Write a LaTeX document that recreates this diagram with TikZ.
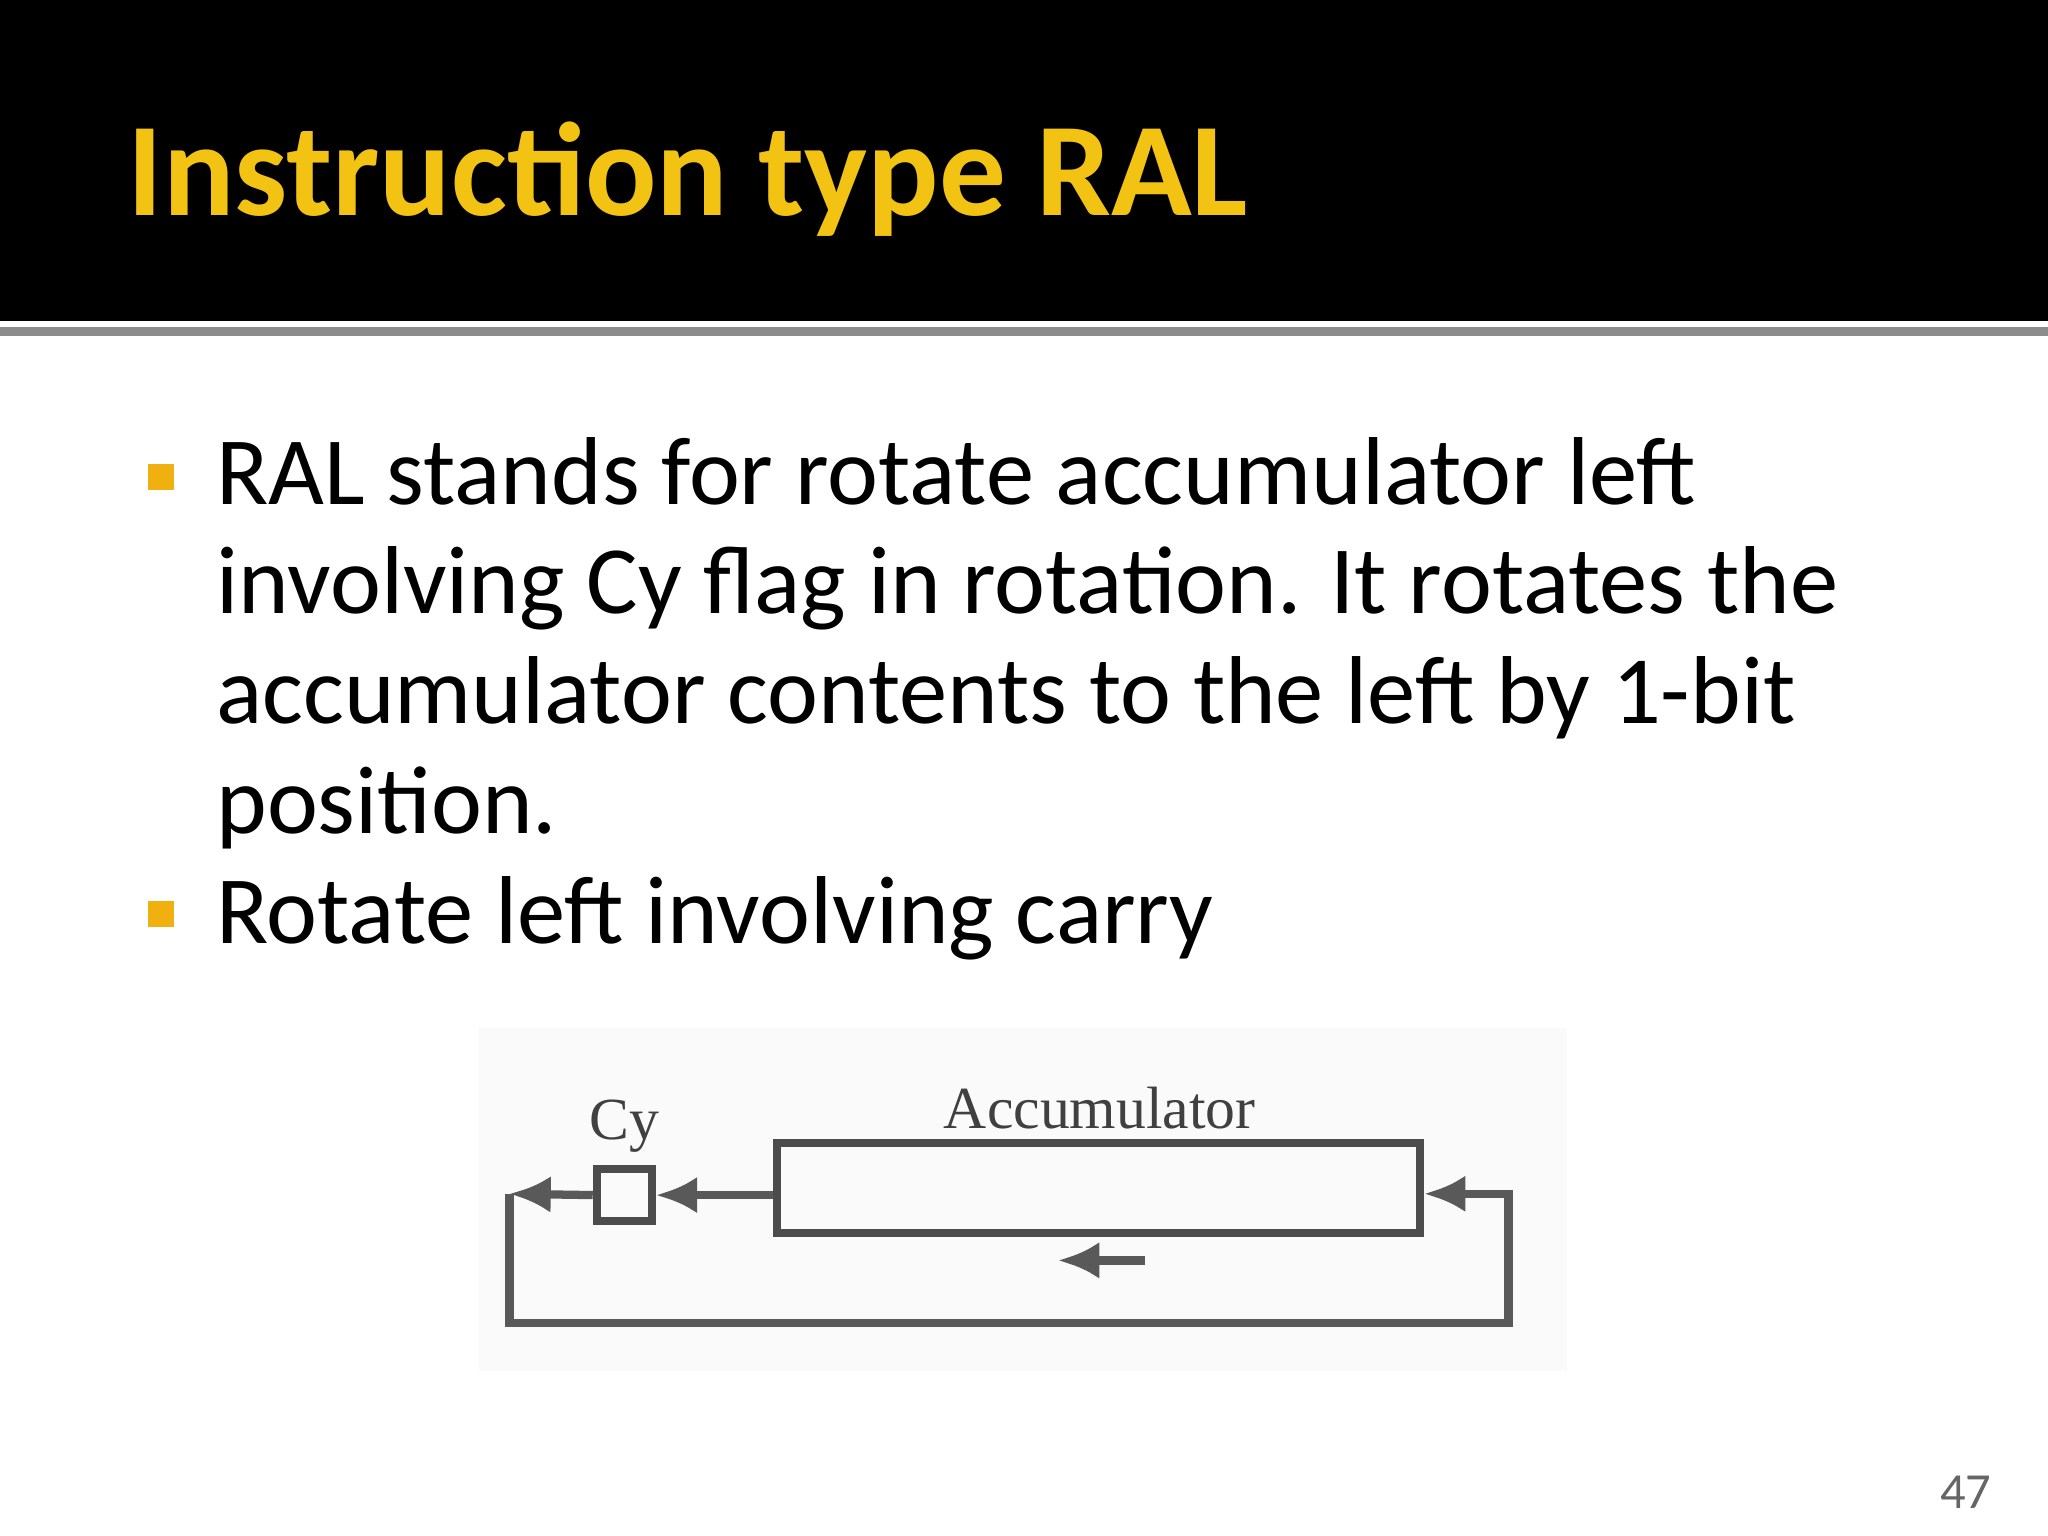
\documentclass[tikz,border=0pt]{standalone}
\usepackage{fontspec}
\setmainfont{Carlito}
\newfontfamily\serifd{Liberation Serif}
\usetikzlibrary{arrows.meta}
\definecolor{ttl}{HTML}{F2C313}
\definecolor{bul}{HTML}{F0B010}
\tikzset{wire/.style={draw=black!65,line width=1.8pt},
 tip/.style={-{Latex[length=9pt,width=8pt]}}}
\begin{document}
\begin{tikzpicture}[x=0.01cm,y=-0.01cm]
\useasboundingbox (0,0) rectangle (1568,1176);
\fill[white] (0,0) rectangle (1568,1176);
\fill[black] (0,0) rectangle (1568,246);
\draw[black!45,line width=2pt] (0,254) -- (1568,254);
\node[anchor=base west,inner sep=0,text=ttl,font=\fontsize{29}{34}\selectfont\bfseries] (title) at (97,165) {Instruction type RAL};
\fill[bul] (113,355) rectangle (133,375);
\fill[bul] (113,690) rectangle (133,710);
\foreach \t [count=\i from 0] in {RAL stands for rotate accumulator left,involving Cy flag in rotation. It rotates the,accumulator contents to the left by 1-bit,position.,Rotate left involving carry}
  \node[anchor=base west,inner sep=0,font=\fontsize{21}{25}\selectfont] (l\i) at (165,386+84*\i) {\t};
\fill[black!2] (367,787) rectangle (1200,1050);
\node[draw=black!70,line width=1.8pt,minimum width=492\pgflinewidth,inner sep=0,minimum width=4.92cm,minimum height=0.69cm] (acc) at (841,909.5) {};
\node[draw=black!70,line width=1.8pt,inner sep=0,minimum width=0.42cm,minimum height=0.40cm] (cy) at (478,915) {};
\node[font=\serifd\fontsize{13}{15}\selectfont,text=black!75] (cyl) at (478,862) {Cy};
\node[font=\serifd\fontsize{13}{15}\selectfont,text=black!75] (accl) at (842,848) {Accumulator};
\coordinate (a1) at (390,914);
\coordinate (a2) at (390,1013);
\coordinate (a3) at (1155,1013);
\coordinate (a4) at (1155,914);
\draw[wire,tip] (acc.west |- cy) -- (cy.east);
\draw[wire,tip] (cy.west) -- (a1);
\draw[wire,tip] (a1) -- (a2) -- (a3) -- (a4) -- (acc.east |- a4);
\coordinate (s1) at (877,965);
\coordinate (s2) at (810,965);
\draw[wire,tip] (s1) -- (s2);
\node[anchor=base,text=black!60,font=\fontsize{11}{13}\selectfont] (pg) at (1505,1155) {47};
\end{tikzpicture}
\end{document}
